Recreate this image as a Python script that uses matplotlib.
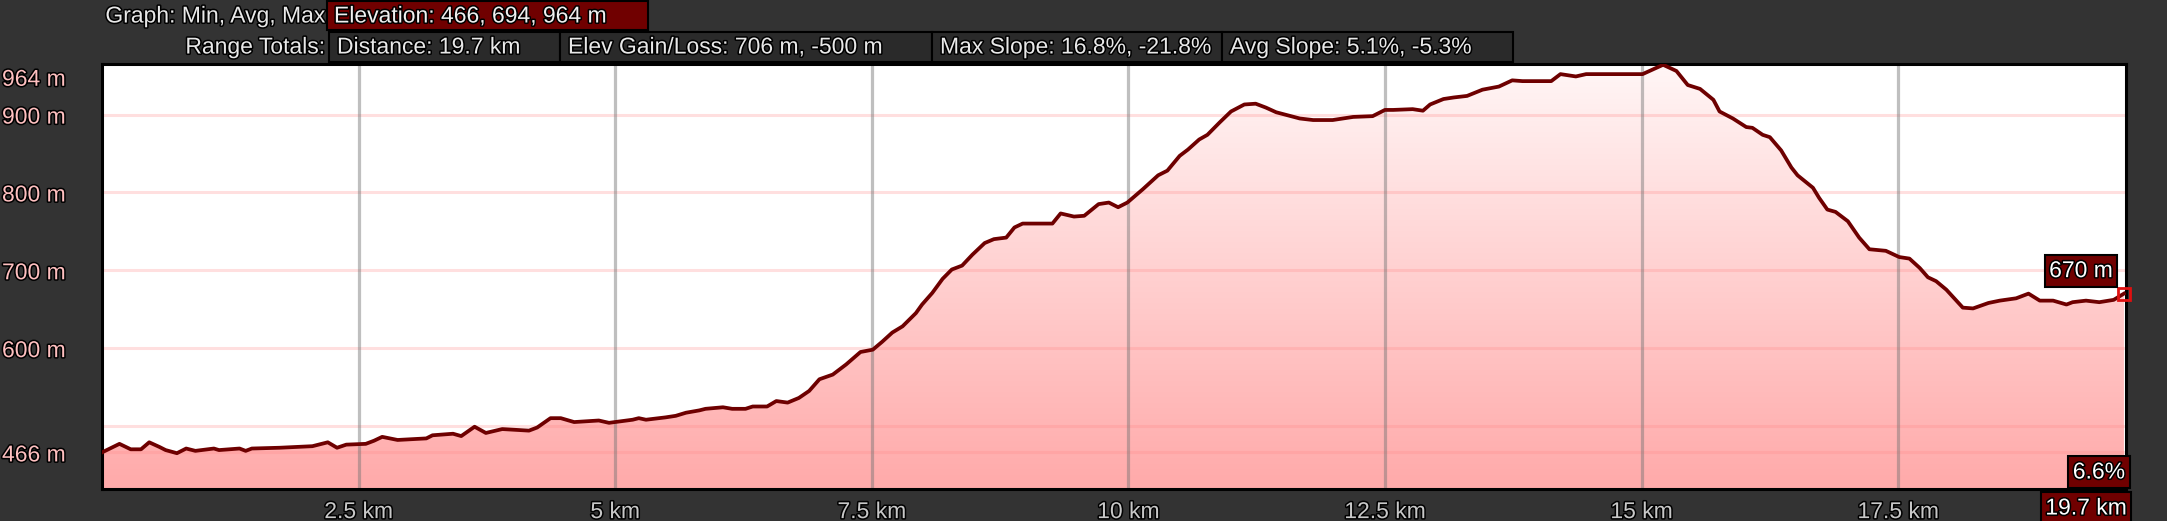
import matplotlib
matplotlib.use("Agg")
import matplotlib.pyplot as plt
import matplotlib.patheffects as pe
from matplotlib.patches import Rectangle
from matplotlib.transforms import ScaledTranslation
import numpy as np

# elevation profile (km, m)
dist_km = [0.0, 0.17, 0.28, 0.38, 0.46, 0.56, 0.62, 0.73, 0.82, 0.91, 1.09, 1.14,
           1.34, 1.40, 1.46, 1.73, 2.05, 2.20, 2.29, 2.38, 2.57, 2.65, 2.73, 2.88,
           3.16, 3.22, 3.42, 3.50, 3.63, 3.74, 3.90, 4.16, 4.24, 4.37, 4.47, 4.60,
           4.84, 4.94, 5.17, 5.23, 5.30, 5.49, 5.59, 5.69, 5.82, 5.88, 6.05, 6.14,
           6.27, 6.34, 6.48, 6.57, 6.68, 6.79, 6.89, 6.99, 7.12, 7.25, 7.39, 7.51,
           7.60, 7.70, 7.80, 7.93, 7.99, 8.09, 8.19, 8.28, 8.38, 8.48, 8.60, 8.69,
           8.81, 8.89, 8.97, 9.26, 9.34, 9.47, 9.57, 9.71, 9.81, 9.90, 9.99, 10.14,
           10.29, 10.38, 10.50, 10.58, 10.69, 10.77, 10.89, 11.00, 11.13, 11.24, 11.34,
           11.44, 11.67, 11.80, 11.99, 12.19, 12.38, 12.50, 12.58, 12.77, 12.87, 12.94,
           13.07, 13.17, 13.30, 13.45, 13.61, 13.74, 13.84, 14.12, 14.21, 14.36, 14.46,
           14.59, 15.01, 15.11, 15.21, 15.34, 15.45, 15.57, 15.70, 15.76, 15.89, 16.02,
           16.08, 16.18, 16.25, 16.36, 16.46, 16.52, 16.67, 16.73, 16.81, 16.89, 17.01,
           17.12, 17.22, 17.38, 17.51, 17.61, 17.71, 17.79, 17.87, 17.97, 18.13, 18.23,
           18.38, 18.49, 18.65, 18.77, 18.88, 19.01, 19.14, 19.20, 19.33, 19.46, 19.60,
           19.70]
elev_m = [466, 477, 470, 470, 479, 473, 469, 465, 471, 468, 471, 469,
          471, 468, 471, 472, 474, 479, 472, 476, 477, 481, 486, 482,
          484, 488, 490, 487, 499, 491, 496, 494, 498, 510, 510, 505,
          507, 504, 508, 510, 508, 511, 513, 517, 520, 522, 524, 522,
          522, 525, 525, 532, 530, 536, 545, 560, 566, 579, 595, 598,
          608, 620, 628, 645, 656, 671, 689, 701, 706, 720, 735, 740,
          742, 755, 760, 760, 773, 769, 770, 785, 787, 781, 787, 804,
          822, 828, 847, 855, 868, 874, 890, 904, 913, 914, 909,
          903, 895, 893, 893, 897, 898, 906, 906, 907, 905, 913,
          920, 922, 924, 932, 936, 944, 943, 943, 952, 949, 952,
          952, 952, 958, 964, 956, 938, 933, 919, 904, 895, 884,
          883, 874, 871, 854, 832, 822, 806, 793, 778, 775, 763,
          742, 727, 725, 717, 715, 703, 691, 686, 675, 652, 651,
          658, 661, 664, 670, 661, 661, 656, 659, 661, 659, 662,
          670]

x_ticks = [2.5, 5, 7.5, 10, 12.5, 15, 17.5]
x_tick_labels = ["2.5 km", "5 km", "7.5 km", "10 km", "12.5 km", "15 km", "17.5 km"]
y_ticks = [466, 600, 700, 800, 900, 964]
y_tick_labels = ["466 m", "600 m", "700 m", "800 m", "900 m", "964 m"]
y_grid = [466, 500, 600, 700, 800, 900]

header_row1 = ("Graph: Min, Avg, Max", "Elevation: 466, 694, 964 m")
header_row2 = ["Distance: 19.7 km", "Elev Gain/Loss: 706 m, -500 m",
               "Max Slope: 16.8%, -21.8%", "Avg Slope: 5.1%, -5.3%"]
end_slope = "6.6%"
total_dist = "19.7 km"

W, H = 2167, 521
plt.rcParams['font.family'] = ['Liberation Sans', 'DejaVu Sans']
fig = plt.figure(figsize=(W / 100, H / 100), dpi=100)
fig.patch.set_facecolor('#333333')

def fx(px):
    return px / W

def fy(py):
    return 1 - py / H

outline = [pe.withStroke(linewidth=2.2, foreground='black')]
FS = 16.5

ax = fig.add_axes([fx(102), fy(489), fx(2126 - 102), (489 - 64) / H])
ax.set_xlim(0, 19.72)
ax.set_ylim(419, 965)
ax.set_facecolor('white')

# gradient fill under the profile
poly = ax.fill_between(dist_km, elev_m, 419, facecolor='none', edgecolor='none')
grad = np.linspace(0, 1, 256).reshape(-1, 1)
top = np.array([1.0, 0.965, 0.965])
bot = np.array([1.0, 0.665, 0.665])
img = top + (bot - top) * grad[:, :, None]
im = ax.imshow(img, extent=[0, 19.72, 419, 965], origin='upper', aspect='auto', zorder=1)
im.set_clip_path(poly.get_paths()[0], transform=ax.transData)

for yv in y_grid:
    ax.axhline(yv, color=(1.0, 0.55, 0.55), alpha=0.28, lw=2.2, zorder=2)
for xv in x_ticks:
    ax.axvline(xv, color=(0.45, 0.45, 0.45), alpha=0.45, lw=2.3, zorder=2)

ax.plot(dist_km, elev_m, color='#6e0000', lw=2.7, zorder=3, solid_joinstyle='round')
ax.plot(dist_km[-1], elev_m[-1], marker='s', ms=8, mfc='none', mec='#e01010', mew=2,
        zorder=4, clip_on=False)

for s in ax.spines.values():
    s.set_color('black')
    s.set_linewidth(2.2)

ax.set_xticks(x_ticks, x_tick_labels)
ax.tick_params(axis='x', length=0, pad=8, labelsize=FS, labelcolor='#c8c8c8')
ax.set_yticks(y_ticks, y_tick_labels)
ax.tick_params(axis='y', length=0, pad=72, labelsize=FS, labelcolor='#ffc0c0')
for lab in ax.get_yticklabels():
    lab.set_horizontalalignment('left')
    lab.set_path_effects(outline)
top_lab = ax.get_yticklabels()[-1]
top_lab.set_verticalalignment('top')
top_lab.set_transform(top_lab.get_transform() + ScaledTranslation(0, -0.03, fig.dpi_scale_trans))
for lab in ax.get_xticklabels():
    lab.set_path_effects(outline)

# end value labels
bbox_red = dict(boxstyle='square,pad=0.2', facecolor='#700000', edgecolor='black', lw=1.5)
ax.annotate(f"{elev_m[-1]} m", xy=(dist_km[-1], elev_m[-1]), xytext=(-43, 23),
            textcoords='offset pixels', ha='center', va='center', fontsize=FS,
            color='white', bbox=bbox_red, zorder=5, annotation_clip=False,
            path_effects=outline)
fig.text(fx(2099), fy(472), end_slope, ha='center', va='center', fontsize=FS,
         color='white', path_effects=outline, bbox=bbox_red)
fig.text(fx(2086), fy(508), total_dist, ha='center', va='center', fontsize=FS,
         color='white', path_effects=outline, bbox=bbox_red)

# header rows
fig.patches.append(Rectangle((fx(327), fy(30)), fx(648 - 327), 29 / H, transform=fig.transFigure,
                             facecolor='#700000', edgecolor='black', lw=1.5))
fig.text(fx(325), fy(16), header_row1[0], ha='right', va='center', fontsize=FS,
         color='#e8e8e8', path_effects=outline)
fig.text(fx(334), fy(16), header_row1[1], ha='left', va='center', fontsize=FS,
         color='#f0f0f0', path_effects=outline)

fig.text(fx(325), fy(47), "Range Totals:", ha='right', va='center', fontsize=FS,
         color='#e8e8e8', path_effects=outline)
box_edges = [329, 560, 932, 1222, 1513]
for i, txt in enumerate(header_row2):
    x0, x1 = box_edges[i], box_edges[i + 1]
    fig.patches.append(Rectangle((fx(x0), fy(62)), fx(x1 - x0), 30 / H, transform=fig.transFigure,
                                 facecolor='#2a2a2a', edgecolor='black', lw=1.5))
    fig.text(fx(x0 + 8), fy(47), txt, ha='left', va='center', fontsize=FS,
             color='#e8e8e8', path_effects=outline)

fig.savefig('out.png', dpi=100, facecolor=fig.get_facecolor())
